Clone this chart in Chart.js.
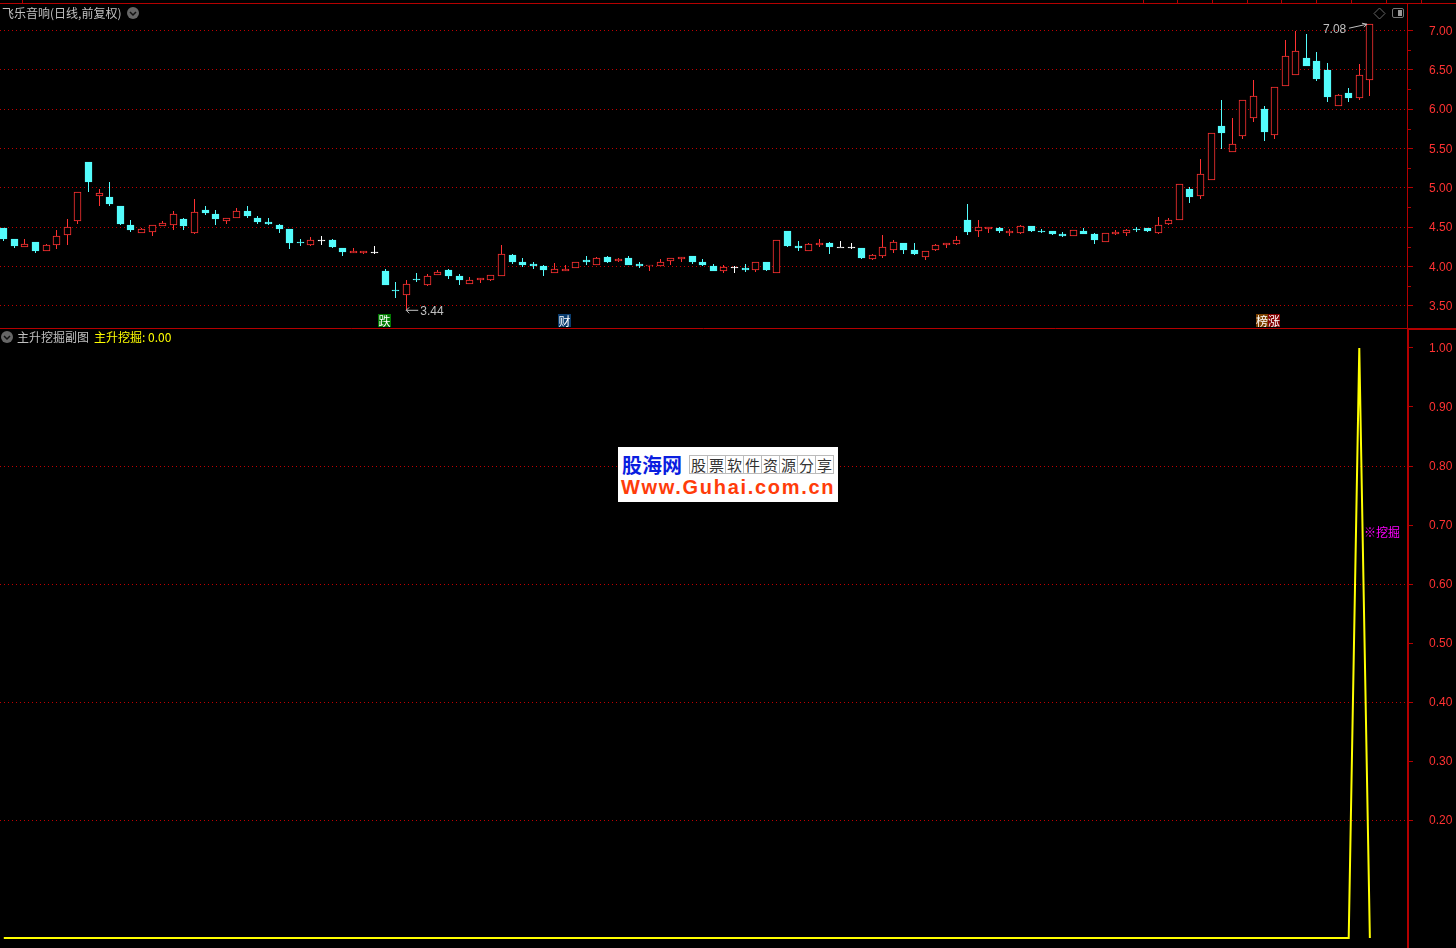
<!DOCTYPE html>
<html>
<head>
<meta charset="utf-8">
<title>飞乐音响</title>
<script src="https://cdn.jsdelivr.net/npm/chart.js@4/dist/chart.umd.min.js"></script>
<style>
html, body { margin: 0; padding: 0; width: 1456px; height: 948px; background: #000; overflow: hidden; }
canvas { position: absolute; left: 0; }
#priceChart { top: 0; }
#signalChart { top: 330px; }
.txt { position: absolute; font: 12px/14px "Noto Sans CJK SC", sans-serif; white-space: pre; }
.tag { position: absolute; top: 314px; height: 13px; width: 13px; font: 12px/13px "Noto Sans CJK SC", sans-serif; color: #fff; text-align: center; }
svg { position: absolute; }
#logo { position: absolute; left: 618px; top: 447px; width: 220px; height: 55px; background: #fff; }
#logo div { position: absolute; white-space: pre; }
#logoCells { left: 71px; top: 8px; display: flex; }
#logoCells span { width: 17px; height: 17px; border: 1px solid #bbb; border-right-width: 0; font: 15px/17px "Noto Sans CJK SC", serif; color: #333; text-align: center; }
</style>
</head>
<body>
<canvas id="priceChart" width="1456" height="330"></canvas>
<canvas id="signalChart" width="1456" height="618"></canvas>

<div class="txt" style="left:2px;top:6px;color:#c0c0c0">飞乐音响(日线,前复权)</div>
<svg style="left:127px;top:7px" width="12" height="12"><circle cx="6" cy="6" r="6" fill="#666"/><path d="M3 5l3 3l3-3" stroke="#111" stroke-width="1.5" fill="none"/></svg>
<svg style="left:1373px;top:7px" width="13" height="13"><path d="M6.5 1L12 6.5L6.5 12L1 6.5Z" stroke="#666" fill="none"/></svg>
<svg style="left:1392px;top:7px" width="13" height="12"><rect x="0.5" y="1.5" width="11" height="9" rx="1.5" stroke="#777" fill="none"/><rect x="6" y="3" width="4" height="6" fill="#999"/></svg>

<div class="tag" style="left:378px;background:#007a00">跌</div>
<div class="tag" style="left:558px;background:#0a3c6e">财</div>
<div class="tag" style="left:1256px;width:12px;background:#7a4000">榜</div>
<div class="tag" style="left:1268px;width:12px;background:#800000">涨</div>

<svg style="left:1px;top:331px" width="12" height="12"><circle cx="6" cy="6" r="6" fill="#666"/><path d="M3 5l3 3l3-3" stroke="#111" stroke-width="1.5" fill="none"/></svg>
<div class="txt" style="left:17px;top:330px;color:#c0c0c0">主升挖掘副图</div>
<div class="txt" style="left:94px;top:330px;color:#ffff00">主升挖掘: 0.00</div>
<div class="txt" style="left:1364px;top:525px;color:#ff00ff">※挖掘</div>

<div id="logo">
  <div style="left:4px;top:6px;font:bold 20px/24px 'Noto Sans CJK SC',sans-serif;color:#0a1ee0">股海网</div>
  <div id="logoCells"><span>股</span><span>票</span><span>软</span><span>件</span><span>资</span><span>源</span><span>分</span><span style="border-right-width:1px">享</span></div>
  <div style="left:3px;top:29px;font:bold 20px/22px 'Liberation Sans',sans-serif;letter-spacing:1.7px;color:#ff3c0a">Www.Guhai.com.cn</div>
</div>

<script>
var opens = [4.49,4.35,4.24,4.31,4.19,4.27,4.40,4.58,5.33,4.90,
  4.88,4.77,4.53,4.43,4.44,4.51,4.53,4.60,4.43,4.72,
  4.67,4.58,4.61,4.70,4.62,4.56,4.53,4.47,4.31,4.27,
  4.33,4.33,4.23,4.17,4.17,4.18,3.94,3.70,3.63,3.84,
  3.76,3.89,3.95,3.88,3.77,3.82,3.83,3.88,4.14,4.05,
  4.03,4.00,3.91,3.94,3.98,4.08,4.02,4.12,4.07,4.11,
  4.03,4.01,4.01,4.07,4.09,4.13,4.05,4.00,3.94,3.99,
  3.98,3.95,4.05,3.92,4.45,4.26,4.19,4.27,4.30,4.24,
  4.24,4.23,4.09,4.13,4.21,4.30,4.21,4.12,4.21,4.27,
  4.28,4.59,4.45,4.48,4.49,4.42,4.42,4.51,4.45,4.45,
  4.41,4.38,4.45,4.41,4.31,4.41,4.43,4.47,4.49,4.43,
  4.54,4.59,4.98,4.89,5.10,5.78,5.45,5.66,5.89,6.00,
  5.67,6.30,6.44,6.65,6.61,6.50,6.04,6.21,6.14,6.37];
var highs = [4.49,4.35,4.35,4.31,4.28,4.46,4.60,4.94,5.33,4.98,
  5.07,4.77,4.59,4.49,4.52,4.58,4.70,4.62,4.86,4.77,
  4.72,4.61,4.74,4.77,4.64,4.62,4.54,4.47,4.35,4.37,
  4.39,4.35,4.23,4.23,4.20,4.26,3.97,3.80,3.83,3.92,
  3.90,3.95,3.97,3.90,3.86,3.85,3.89,4.27,4.16,4.11,
  4.05,4.02,4.04,4.02,4.05,4.13,4.12,4.13,4.11,4.13,
  4.05,4.02,4.09,4.11,4.12,4.13,4.09,4.03,4.02,4.00,
  4.03,4.05,4.05,4.34,4.45,4.32,4.30,4.35,4.31,4.32,
  4.30,4.23,4.16,4.40,4.34,4.30,4.30,4.19,4.28,4.30,
  4.38,4.79,4.59,4.50,4.50,4.48,4.53,4.51,4.48,4.45,
  4.44,4.46,4.49,4.42,4.43,4.46,4.47,4.50,4.49,4.63,
  4.61,5.05,5.01,5.37,5.69,6.12,5.89,6.11,6.37,6.04,
  6.28,6.88,7.00,6.96,6.73,6.59,6.19,6.27,6.57,7.08];
var lows = [4.32,4.23,4.24,4.17,4.19,4.22,4.27,4.54,4.95,4.77,
  4.77,4.53,4.44,4.43,4.39,4.51,4.46,4.46,4.41,4.65,
  4.53,4.54,4.61,4.62,4.54,4.53,4.42,4.22,4.26,4.26,
  4.27,4.23,4.13,4.17,4.16,4.16,3.76,3.60,3.44,3.80,
  3.75,3.89,3.84,3.76,3.77,3.79,3.81,3.88,4.03,3.99,
  3.97,3.88,3.91,3.94,3.98,4.02,4.02,4.04,4.05,4.02,
  3.98,3.94,4.01,4.02,4.05,4.03,4.00,3.94,3.91,3.91,
  3.93,3.93,3.94,3.92,4.25,4.19,4.19,4.25,4.16,4.24,
  4.22,4.09,4.08,4.11,4.17,4.16,4.14,4.08,4.19,4.23,
  4.27,4.40,4.37,4.42,4.42,4.39,4.41,4.44,4.42,4.40,
  4.37,4.38,4.41,4.28,4.31,4.40,4.39,4.44,4.44,4.41,
  4.53,4.59,4.81,4.86,5.10,5.49,5.45,5.62,5.84,5.59,
  5.62,6.30,6.44,6.55,6.36,6.09,6.04,6.09,6.12,6.17];
var closes = [4.35,4.26,4.29,4.20,4.27,4.38,4.50,4.94,5.07,4.93,
  4.79,4.54,4.46,4.47,4.52,4.55,4.66,4.51,4.69,4.68,
  4.60,4.61,4.70,4.64,4.56,4.54,4.47,4.30,4.30,4.34,
  4.33,4.25,4.18,4.20,4.20,4.18,3.76,3.69,3.78,3.83,
  3.88,3.93,3.88,3.83,3.83,3.85,3.89,4.16,4.05,4.02,
  4.01,3.95,3.96,3.97,4.05,4.05,4.10,4.05,4.09,4.02,
  4.01,4.02,4.06,4.11,4.12,4.05,4.02,3.94,3.99,3.99,
  3.95,4.05,3.95,4.34,4.26,4.23,4.28,4.30,4.25,4.24,
  4.24,4.11,4.14,4.25,4.31,4.21,4.16,4.19,4.27,4.30,
  4.34,4.44,4.50,4.50,4.45,4.45,4.51,4.45,4.44,4.41,
  4.39,4.46,4.41,4.33,4.43,4.44,4.46,4.46,4.45,4.53,
  4.59,5.05,4.88,5.18,5.69,5.70,5.55,6.11,6.17,5.71,
  6.28,6.68,6.74,6.55,6.38,6.15,6.18,6.14,6.44,7.08];
var miningSignal = [0,0,0,0,0,0,0,0,0,0,
  0,0,0,0,0,0,0,0,0,0,
  0,0,0,0,0,0,0,0,0,0,
  0,0,0,0,0,0,0,0,0,0,
  0,0,0,0,0,0,0,0,0,0,
  0,0,0,0,0,0,0,0,0,0,
  0,0,0,0,0,0,0,0,0,0,
  0,0,0,0,0,0,0,0,0,0,
  0,0,0,0,0,0,0,0,0,0,
  0,0,0,0,0,0,0,0,0,0,
  0,0,0,0,0,0,0,0,0,0,
  0,0,0,0,0,0,0,0,0,0,
  0,0,0,0,0,0,0,0,1,0];
var priceTicks = [3.5,4,4.5,5,5.5,6,6.5,7];
var minorPriceTicks = [3.75,4.25,4.75,5.25,5.75,6.25,6.75];
var signalTicks = [0.2,0.3,0.4,0.5,0.6,0.7,0.8,0.9,1];
var signalGridLines = [0.2,0.4,0.6,0.8];
var rulerMarks = [1.72,107.6,110.8,114.1,117.4,120.6,123.9,127.2,130.5,133.8];
var lowNote = { index: 38, price: 3.44 };
var highNote = { index: 129, price: 7.08 };

var RED = '#ff3232', CYAN = '#54fcfc', WHITE = '#ffffff', AXIS = '#b40000', GRID = '#c00000';

function candleColor(i) {
  if (closes[i] > opens[i]) return RED;
  if (closes[i] < opens[i]) return CYAN;
  return WHITE;
}

var wickPoints = [], bodyPoints = [], linePoints = [];
for (var i = 0; i < opens.length; i++) {
  wickPoints.push({ x: i, y: [lows[i], highs[i]] });
  bodyPoints.push({ x: i, y: [opens[i], closes[i]] });
  linePoints.push({ x: i, y: miningSignal[i] });
}

// tick padding also pads the axis ends, the panels run edge to edge
function fixAxisBox(width) {
  return function (s) {
    s.width = width;
    s.paddingTop = 0;
    s.paddingBottom = 0;
  };
}

// the original draws on whole pixels, keep bars sharp
var snapBars = {
  id: 'snapBars',
  afterDatasetsUpdate: function (chart) {
    chart.getSortedVisibleDatasetMetas().forEach(function (meta) {
      meta.data.forEach(function (el) {
        el.x = Math.floor(el.x) + 0.5;
        el.y = Math.round(el.y);
        el.base = Math.round(el.base);
        if (el.y === el.base) el.base = el.y + 1;
      });
    });
  }
};

// digits sit a pixel high with textBaseline middle
var nudgeLabels = {
  id: 'nudgeLabels',
  beforeDraw: function (chart) {
    chart.scales.y.getLabelItems(chart.chartArea).forEach(function (item) {
      item.options.translation[1] += 1;
    });
  }
};

var priceExtras = {
  id: 'priceExtras',
  afterDraw: function (chart) {
    var c = chart.ctx, xs = chart.scales.x, ys = chart.scales.y;
    c.save();
    c.strokeStyle = AXIS;
    c.lineWidth = 1;
    c.beginPath();
    c.moveTo(0, 3.5); c.lineTo(1456, 3.5);
    c.moveTo(0, 328.5); c.lineTo(1407, 328.5);
    rulerMarks.forEach(function (m) {
      var x = Math.round(xs.getPixelForValue(m)) + 0.5;
      c.moveTo(x, 0); c.lineTo(x, 3);
    });
    minorPriceTicks.forEach(function (p) {
      var y = Math.round(ys.getPixelForValue(p)) + 0.5;
      c.moveTo(1407, y); c.lineTo(1411, y);
    });
    c.stroke();
    c.fillStyle = AXIS;
    c.fillRect(1407, 328, 49, 2);

    // notes for the low and the high
    c.strokeStyle = '#c0c0c0';
    c.fillStyle = '#c0c0c0';
    c.font = '12px "Liberation Sans", sans-serif';
    c.textBaseline = 'middle';
    var lx = xs.getPixelForValue(lowNote.index), ly = ys.getPixelForValue(lowNote.price);
    c.beginPath();
    c.moveTo(lx + 12, ly); c.lineTo(lx, ly);
    c.moveTo(lx + 3, ly - 3); c.lineTo(lx, ly); c.lineTo(lx + 3, ly + 3);
    c.stroke();
    c.fillText(lowNote.price.toFixed(2), lx + 14, ly + 1.5);
    var hx = xs.getPixelForValue(highNote.index), hy = ys.getPixelForValue(highNote.price);
    c.beginPath();
    c.moveTo(hx - 21, hy + 4); c.lineTo(hx - 3, hy);
    c.moveTo(hx - 8, hy - 1); c.lineTo(hx - 3, hy); c.lineTo(hx - 6, hy + 3);
    c.stroke();
    c.fillText(highNote.price.toFixed(2), hx - 47, hy + 5.5);
    c.restore();
  }
};

var priceChart = new Chart(document.getElementById('priceChart').getContext('2d'), {
  type: 'bar',
  data: {
    datasets: [
      {
        data: bodyPoints,
        order: 1,
        grouped: false,
        barThickness: 7,
        borderWidth: 1,
        borderSkipped: false,
        backgroundColor: function (ctx) {
          return candleColor(ctx.dataIndex) === RED ? '#000000' : candleColor(ctx.dataIndex);
        },
        borderColor: function (ctx) { return candleColor(ctx.dataIndex); }
      },
      {
        data: wickPoints,
        order: 2,
        grouped: false,
        barThickness: 1,
        borderWidth: 0,
        inflateAmount: 0,
        backgroundColor: function (ctx) { return candleColor(ctx.dataIndex); }
      }
    ]
  },
  options: {
    responsive: false,
    animation: false,
    layout: { padding: { top: 3, bottom: 1, left: 0, right: 0 } },
    plugins: { legend: { display: false }, tooltip: { enabled: false } },
    scales: {
      x: { type: 'linear', display: false, offset: false, min: -0.359, max: 132.5 },
      y: {
        position: 'right',
        min: 3.2023,
        max: 7.3499,
        afterFit: fixAxisBox(49),
        afterBuildTicks: function (s) {
          s.ticks = priceTicks.map(function (v) { return { value: v }; });
        },
        border: { color: AXIS, width: 1, dash: [1, 3] },
        grid: { color: GRID, tickColor: AXIS, tickLength: 6 },
        ticks: {
          color: RED,
          padding: 16,
          autoSkip: false,
          font: { family: 'Liberation Sans', size: 12 },
          callback: function (v) { return v.toFixed(2); }
        }
      }
    }
  },
  plugins: [snapBars, nudgeLabels, priceExtras]
});

var signalChart = new Chart(document.getElementById('signalChart').getContext('2d'), {
  type: 'line',
  data: {
    datasets: [{
      data: linePoints,
      borderColor: '#ffff00',
      borderWidth: 2,
      pointRadius: 0,
      tension: 0
    }]
  },
  options: {
    responsive: false,
    animation: false,
    layout: { padding: 0 },
    plugins: { legend: { display: false }, tooltip: { enabled: false } },
    scales: {
      x: { type: 'linear', display: false, offset: false, min: -0.359, max: 132.6 },
      y: {
        position: 'right',
        min: -0.0169,
        max: 1.0305,
        afterFit: fixAxisBox(48),
        afterBuildTicks: function (s) {
          s.ticks = signalTicks.map(function (v) { return { value: v }; });
        },
        border: { color: AXIS, width: 2, dash: [1, 3] },
        grid: {
          color: function (ctx) {
            return signalGridLines.indexOf(ctx.tick.value) >= 0 ? GRID : 'rgba(0,0,0,0)';
          },
          tickColor: AXIS,
          tickLength: 5
        },
        ticks: {
          color: RED,
          padding: 16,
          autoSkip: false,
          font: { family: 'Liberation Sans', size: 12 },
          callback: function (v) { return v.toFixed(2); }
        }
      }
    }
  },
  plugins: [nudgeLabels]
});
</script>
</body>
</html>
